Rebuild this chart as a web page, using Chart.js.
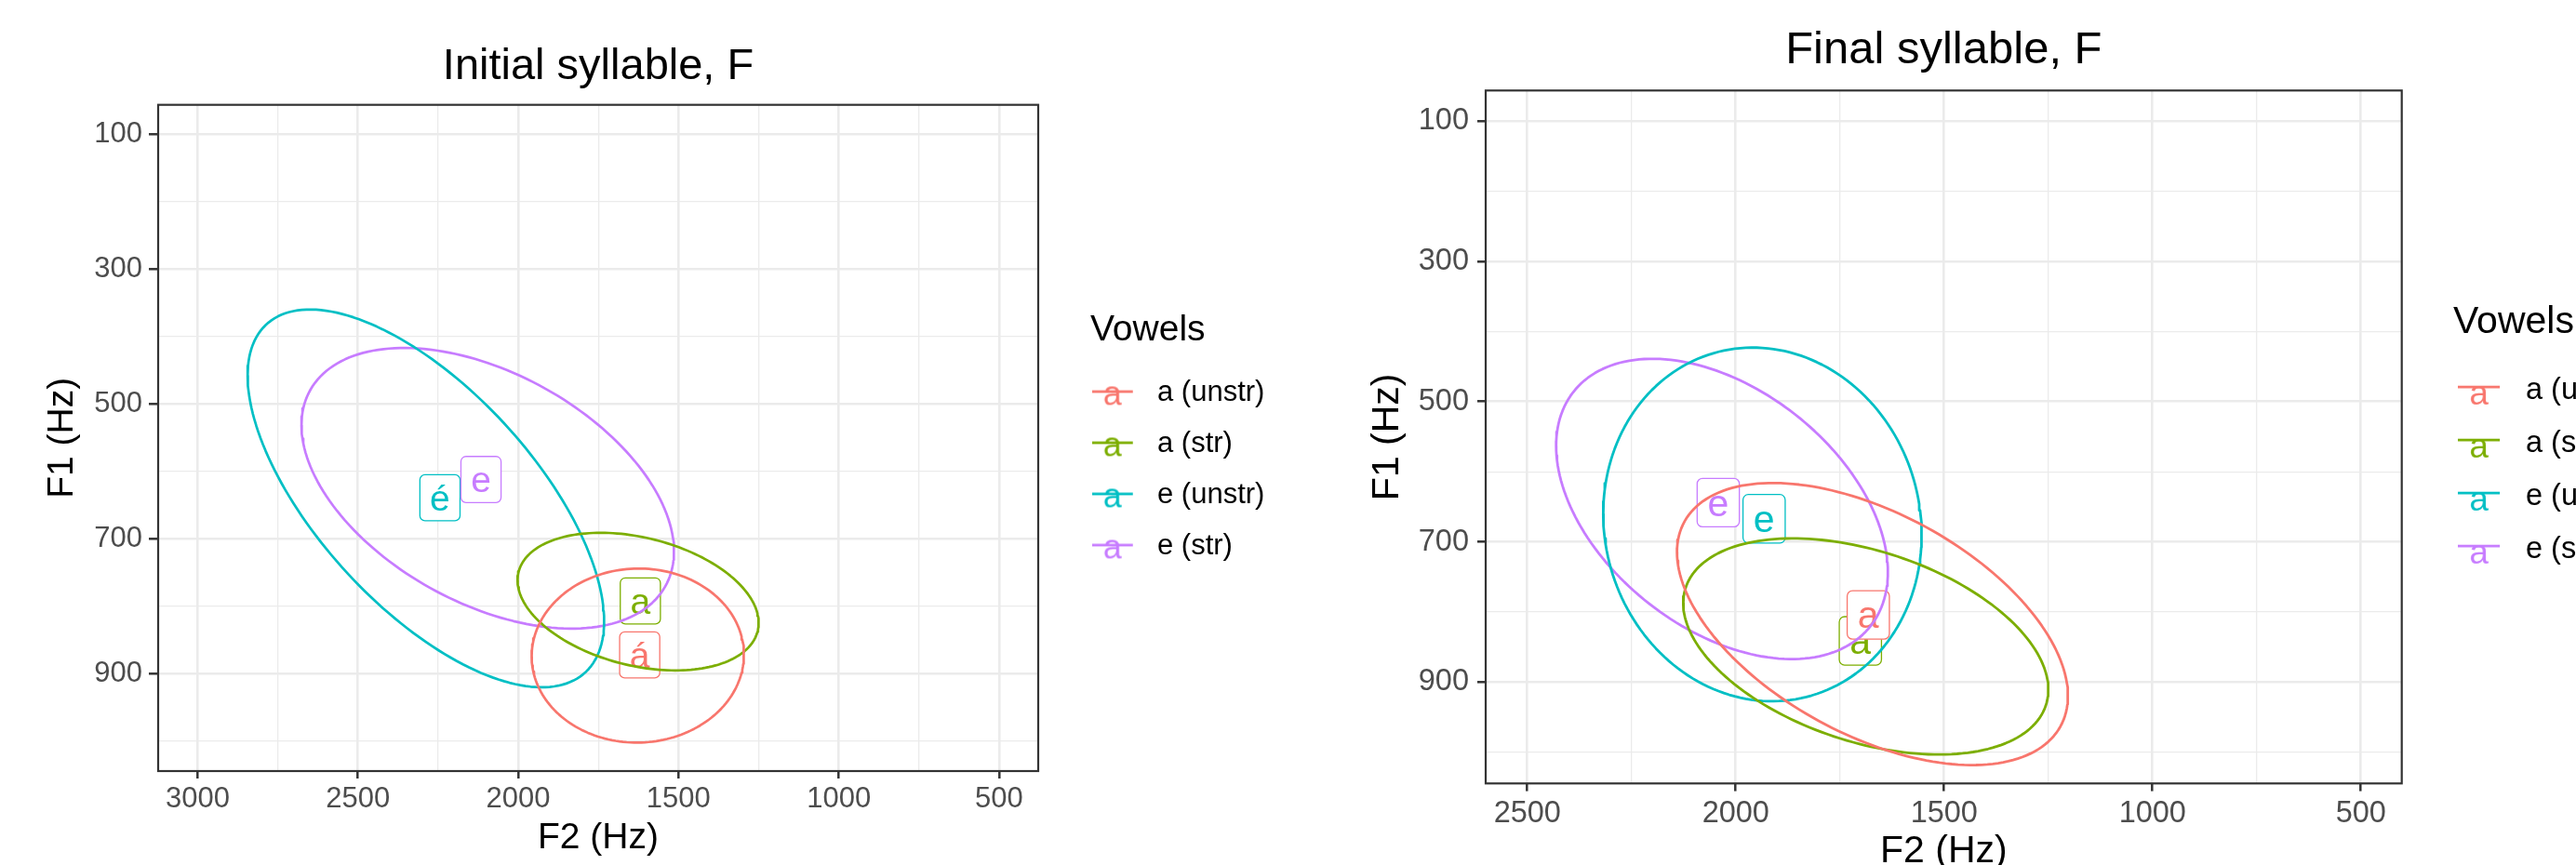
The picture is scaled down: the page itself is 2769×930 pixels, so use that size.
<!DOCTYPE html>
<html>
<head>
<meta charset="utf-8">
<script src="https://cdn.jsdelivr.net/npm/chart.js@4.4.1/dist/chart.umd.min.js"></script>
<style>
html,body{margin:0;padding:0;background:#fff;overflow:hidden;width:2769px;height:930px;position:relative}
#initial{position:absolute;left:0;top:0}
#final{position:absolute;left:1384px;top:0}
</style>
</head>
<body>
<canvas id="initial" width="1384" height="930"></canvas>
<canvas id="final" width="1500" height="945"></canvas>
<script>

const vowels = ["a (unstr)", "a (str)", "e (unstr)", "e (str)"]
const vowelColors = ["#F8766D", "#7CAE00", "#00BFC4", "#C77CFF"]

/* letters shown in the boxes */
const boxTextInitial = ["á", "a", "é", "e"]
const boxTextFinal = ["a", "a", "e", "e"]

/* vowel means (box positions), Hz */
const meanF2Initial = [1621, 1619, 2244, 2116]
const meanF1Initial = [872, 792, 639, 612]
const meanF2Final = [1682, 1701, 1932, 2042]
const meanF1Final = [804, 841, 667, 644]

/* ellipses: centre, half range on F2 and F1, correlation */
const ellF2Initial = [1627, 1626, 2288, 2095]
const ellF1Initial = [873, 793, 640, 625]
const ellHalfF2Initial = [331, 376, 556, 581]
const ellHalfF1Initial = [129, 102, 280, 208]
const ellCorrInitial = [0.01, -0.31, -0.65, -0.45]

const ellF2Final = [1672, 1688, 1936, 2033]
const ellF1Final = [817, 849, 675, 653]
const ellHalfF2Final = [469, 438, 382, 398]
const ellHalfF1Final = [201, 154, 252, 214]
const ellCorrFinal = [-0.51, -0.40, -0.06, -0.42]

/* axes */
const yMajor = [100, 300, 500, 700, 900]
const yMinor = [200, 400, 600, 800, 1000]
const yRange = [56.6, 1044.2]
const xMajorInitial = [500, 1000, 1500, 2000, 2500, 3000]
const xMinorInitial = [750, 1250, 1750, 2250, 2750]
const xRangeInitial = [378, 3123]
const xMajorFinal = [500, 1000, 1500, 2000, 2500]
const xMinorFinal = [750, 1250, 1750, 2250]
const xRangeFinal = [402, 2600]

const FONT = "'Liberation Sans', Arial, sans-serif"
Chart.defaults.font.family = FONT


function ellipsePoints(cx, cy, a, b, r){
const phi = Math.acos(r)
const pts = []
for(let k = 0; k <= 180; k++){
const t = k / 180 * 2 * Math.PI
pts.push({x: cx + a * Math.cos(t), y: cy + b * Math.cos(t - phi)})
}
return pts
}


/* legend key: a short line with an "a" on it */
function keyImage(color, s){
const c = document.createElement("canvas")
c.width = s.w
c.height = s.h
const g = c.getContext("2d")
g.fillStyle = color
g.font = s.fs + "px " + FONT
g.textAlign = "center"
g.textBaseline = "alphabetic"
g.fillText("a", s.kw / 2, s.h / 2 + s.base)
g.strokeStyle = color
g.lineWidth = s.lw
g.beginPath()
g.moveTo(0, s.h / 2 + s.line)
g.lineTo(s.kw, s.h / 2 + s.line)
g.stroke()
return c
}


/* width chart.js will give the legend box */
function legendWidth(p){
const g = document.createElement("canvas").getContext("2d")
g.font = p.tickSize + "px " + FONT
const tw = Math.max(...vowels.map(v => g.measureText(v).width))
return p.legPad + p.keyBox + p.tickSize / 2 + tw + 10
}


function panelPlugin(f2, f1, text, size){
return {
id: "panel",
beforeDatasetsDraw(chart){
const ctx = chart.ctx
const xs = chart.scales.x
const ys = chart.scales.y
ctx.save()
ctx.font = size + "px " + FONT
;[1, 0, 2, 3].forEach(i => {
const px = xs.getPixelForValue(f2[i])
const py = ys.getPixelForValue(f1[i])
const w = ctx.measureText(text[i]).width + size * 0.55
const h = size * 1.27
ctx.beginPath()
ctx.roundRect(px - w / 2, py - h / 2, w, h, size * 0.14)
ctx.fillStyle = "#fff"
ctx.fill()
ctx.lineWidth = 1.3
ctx.strokeStyle = vowelColors[i]
ctx.stroke()
ctx.fillStyle = vowelColors[i]
ctx.textAlign = "center"
ctx.textBaseline = "alphabetic"
ctx.fillText(text[i], px, py + size * 0.35)
})
ctx.restore()
},
afterDatasetsDraw(chart){
const a = chart.chartArea
const ctx = chart.ctx
ctx.save()
ctx.strokeStyle = "#333333"
ctx.lineWidth = 2.2
ctx.strokeRect(a.left, a.top, a.right - a.left, a.bottom - a.top)
ctx.restore()
}
}
}


function drawPanel(id, p){

const canvas = document.getElementById(id)
const majorX = v => p.xMajor.includes(v)
const majorY = v => yMajor.includes(v)
const padR = canvas.width - p.plotRight - p.gap - legendWidth(p)

const datasets = vowels.map((name, i) => ({
label: name,
data: ellipsePoints(p.ellF2[i], p.ellF1[i], p.halfF2[i], p.halfF1[i], p.corr[i]),
showLine: true,
borderColor: vowelColors[i],
borderWidth: p.lw,
borderJoinStyle: "round",
pointRadius: 0,
pointHoverRadius: 0,
pointStyle: keyImage(vowelColors[i], p.key),
fill: false,
tension: 0
}))

new Chart(canvas, {
type: "scatter",
data: {datasets: datasets},
plugins: [panelPlugin(p.meanF2, p.meanF1, p.boxText, p.boxSize)],
options: {
responsive: false,
animation: false,
devicePixelRatio: 1,
events: [],
layout: {padding: {left: p.padL, right: padR, top: 0, bottom: 0}},
scales: {
x: {
type: "linear",
min: p.xRange[0],
max: p.xRange[1],
reverse: true,
afterBuildTicks: s => { s.ticks = p.xMajor.concat(p.xMinor).sort((a, b) => a - b).map(v => ({value: v})) },
afterFit: s => { s.height = p.xAxisH },
border: {display: false},
grid: {
color: "#EBEBEB",
lineWidth: c => c.tick && majorX(c.tick.value) ? 2.6 : 1.3,
tickLength: p.xTickLen,
tickWidth: 2.5,
tickColor: c => c.tick && majorX(c.tick.value) ? "#333333" : "rgba(0,0,0,0)"
},
ticks: {
autoSkip: false,
maxRotation: 0,
padding: p.xTickPad,
color: "#4D4D4D",
font: {size: p.tickSize},
callback: v => majorX(v) ? String(v) : ""
},
title: {display: true, text: "F2 (Hz)", color: "#000", font: {size: p.axisTitle}, padding: {top: 0, bottom: p.xTitlePad}}
},
y: {
type: "linear",
min: yRange[0],
max: yRange[1],
reverse: true,
afterBuildTicks: s => { s.ticks = yMajor.concat(yMinor).sort((a, b) => a - b).map(v => ({value: v})) },
afterFit: s => { s.width = p.yAxisW },
border: {display: false},
grid: {
color: "#EBEBEB",
lineWidth: c => c.tick && majorY(c.tick.value) ? 2.6 : 1.3,
tickLength: p.yTickLen,
tickWidth: 2.5,
tickColor: c => c.tick && majorY(c.tick.value) ? "#333333" : "rgba(0,0,0,0)"
},
ticks: {
autoSkip: false,
padding: p.yTickPad,
color: "#4D4D4D",
font: {size: p.tickSize},
callback: v => majorY(v) ? String(v) : ""
},
title: {display: true, text: "F1 (Hz)", color: "#000", font: {size: p.axisTitle}, padding: {top: 0, bottom: 0}}
},
gap: {
type: "linear",
position: "right",
display: true,
grid: {display: false},
border: {display: false},
ticks: {display: false},
afterFit: s => { s.width = p.gap }
}
},
plugins: {
tooltip: {enabled: false},
title: {
display: true,
text: p.title,
fullSize: false,
color: "#000",
font: {size: p.titleSize, weight: "normal"},
padding: {top: p.titlePadT, bottom: p.titlePadB}
},
legend: {
position: "right",
align: "center",
title: {
display: true,
text: "Vowels",
position: "start",
color: "#000",
font: {size: p.axisTitle},
padding: {top: p.legTitlePadT, bottom: p.legTitlePadB}
},
labels: {
usePointStyle: true,
pointStyleWidth: p.keyBox,
padding: p.legPad,
color: "#000",
font: {size: p.tickSize}
}
}
}
}
})

}


drawPanel("initial", {
title: "Initial syllable, F",
boxText: boxTextInitial,
meanF2: meanF2Initial, meanF1: meanF1Initial,
ellF2: ellF2Initial, ellF1: ellF1Initial,
halfF2: ellHalfF2Initial, halfF1: ellHalfF1Initial, corr: ellCorrInitial,
xMajor: xMajorInitial, xMinor: xMinorInitial, xRange: xRangeInitial,
lw: 2.7, boxSize: 39,
tickSize: 31, axisTitle: 39, titleSize: 47,
titlePadT: 44, titlePadB: 12.3,
padL: 43.6, plotRight: 1116, yAxisW: 126.4, xAxisH: 101, gap: 56,
xTickLen: 8, xTickPad: 4, yTickLen: 10, yTickPad: 7, xTitlePad: 5.6,
legPad: 24, keyBox: 32.5, legTitlePadT: 33, legTitlePadB: 0,
key: {w: 77, h: 48, kw: 44, fs: 36, lw: 2.7, line: -1.3, base: 13}
})

drawPanel("final", {
title: "Final syllable, F",
boxText: boxTextFinal,
meanF2: meanF2Final, meanF1: meanF1Final,
ellF2: ellF2Final, ellF1: ellF1Final,
halfF2: ellHalfF2Final, halfF1: ellHalfF1Final, corr: ellCorrFinal,
xMajor: xMajorFinal, xMinor: xMinorFinal, xRange: xRangeFinal,
lw: 2.8, boxSize: 41,
tickSize: 32.5, axisTitle: 41, titleSize: 49,
titlePadT: 25, titlePadB: 13.5,
padL: 83.1, plotRight: 1197.7, yAxisW: 129.9, xAxisH: 102.7, gap: 55.3,
xTickLen: 8.3, xTickPad: 5, yTickLen: 9, yTickPad: 9, xTitlePad: 4.4,
legPad: 24.5, keyBox: 37.25, legTitlePadT: 12.65, legTitlePadB: 3.95,
key: {w: 76, h: 50, kw: 45, fs: 37, lw: 2.8, line: -3.9, base: 14.7}
})

</script>
</body>
</html>
